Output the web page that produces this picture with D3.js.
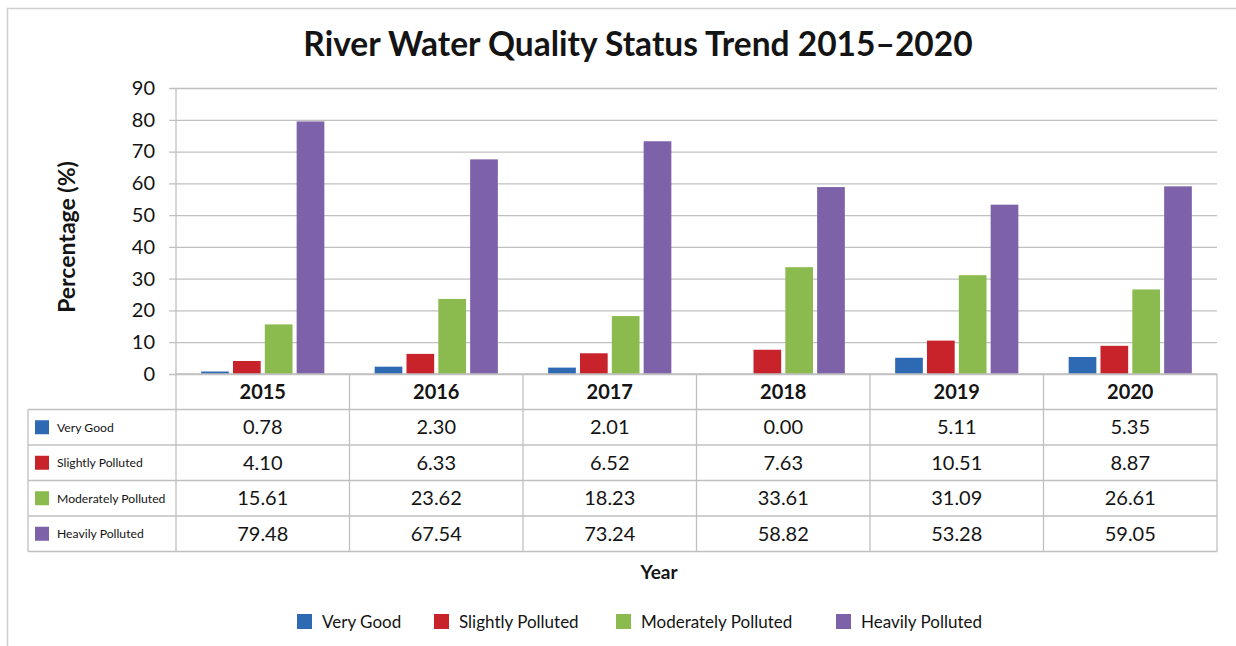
<!DOCTYPE html>
<html>
<head>
<meta charset="utf-8">
<script src="https://cdn.jsdelivr.net/npm/d3@7"></script>
<style>
  html, body { margin: 0; padding: 0; background: #fff; }
  svg { display: block; font-family: Lato, "Open Sans", sans-serif; }
</style>
</head>
<body>
<svg id="chart" width="1236" height="646"></svg>
<script>
const years = ["2015", "2016", "2017", "2018", "2019", "2020"];
const categories = ["Very Good", "Slightly Polluted", "Moderately Polluted", "Heavily Polluted"];
const veryGood = [0.78, 2.30, 2.01, 0.00, 5.11, 5.35];
const slightlyPolluted = [4.10, 6.33, 6.52, 7.63, 10.51, 8.87];
const moderatelyPolluted = [15.61, 23.62, 18.23, 33.61, 31.09, 26.61];
const heavilyPolluted = [79.48, 67.54, 73.24, 58.82, 53.28, 59.05];
const yTicks = [0, 10, 20, 30, 40, 50, 60, 70, 80, 90];
const colors = ["#2E6AB3", "#C8232B", "#8BBB4E", "#7E62A9"];

const seriesValues = [veryGood, slightlyPolluted, moderatelyPolluted, heavilyPolluted];

const svg = d3.select("#chart");
const W = 1236, H = 646;
const pLeft = 176, pRight = 1217, pTop = 88, pBottom = 374;
const tableLeft = 28, rowH = 35.5, headerH = 35.5;
const gridColor = "#C0C0C0";
const textColor = "#141414";

// outer frame
svg.append("rect").attr("x", 7.5).attr("y", 8.5).attr("width", W + 10).attr("height", H + 10)
  .attr("fill", "#fff").attr("stroke", "#D0D0D0").attr("stroke-width", 1.5);

const x = d3.scaleBand().domain(years).range([pLeft, pRight]).padding(0);
const bw = x.bandwidth();
const x1 = d3.scaleBand().domain(categories).range([bw * 0.145, bw * 0.855]).paddingInner(0.13).paddingOuter(0);
const y = d3.scaleLinear().domain([0, 90]).range([pBottom, pTop]);

// title
svg.append("text").attr("x", 638).attr("y", 56).attr("text-anchor", "middle")
  .attr("font-size", 33.5).attr("font-weight", 700).attr("fill", textColor)
  .text("River Water Quality Status Trend 2015–2020");

// gridlines + y axis
const yAxis = d3.axisLeft(y).tickValues(yTicks).tickSize(-(pRight - pLeft)).tickPadding(14).tickFormat(d3.format("d"));
const gy = svg.append("g").attr("transform", `translate(${pLeft},0)`).call(yAxis);
gy.select(".domain").remove();
gy.selectAll(".tick line").attr("stroke", gridColor).attr("stroke-width", 1.3).attr("x1", -7);
gy.selectAll(".tick text").attr("font-size", 20).attr("fill", textColor).attr("font-family", "Lato, sans-serif").attr("x", -21);

// y axis line
svg.append("line").attr("x1", pLeft).attr("x2", pLeft).attr("y1", pTop).attr("y2", pBottom)
  .attr("stroke", gridColor).attr("stroke-width", 1.3);

// y-axis title
svg.append("text").attr("transform", `translate(75,${(pTop + pBottom) / 2 + 6}) rotate(-90)`)
  .attr("text-anchor", "middle").attr("font-size", 23).attr("font-weight", 700).attr("fill", textColor)
  .text("Percentage (%)");

// bars
const groups = svg.append("g").selectAll("g").data(years).join("g")
  .attr("transform", d => `translate(${x(d)},0)`);
groups.selectAll("rect").data((d, i) => categories.map((c, k) => ({ c, k, v: seriesValues[k][i] })))
  .join("rect")
  .attr("x", d => x1(d.c)).attr("width", x1.bandwidth())
  .attr("y", d => y(d.v)).attr("height", d => y(0) - y(d.v))
  .attr("fill", d => colors[d.k]);

// table
const tbl = svg.append("g");
const nRows = categories.length;
const tableBottom = pBottom + headerH + nRows * rowH;
tbl.append("line").attr("x1", pLeft).attr("x2", pRight).attr("y1", pBottom).attr("y2", pBottom)
  .attr("stroke", gridColor).attr("stroke-width", 1.3);
for (let r = 0; r <= nRows; r++) {
  const yy = pBottom + headerH + r * rowH;
  tbl.append("line").attr("x1", tableLeft).attr("x2", pRight).attr("y1", yy).attr("y2", yy)
    .attr("stroke", gridColor).attr("stroke-width", 1.3);
}
years.forEach(yr => {
  tbl.append("line").attr("x1", x(yr)).attr("x2", x(yr)).attr("y1", pBottom).attr("y2", tableBottom)
    .attr("stroke", gridColor).attr("stroke-width", 1.3);
});
tbl.append("line").attr("x1", pRight).attr("x2", pRight).attr("y1", pBottom).attr("y2", tableBottom)
  .attr("stroke", gridColor).attr("stroke-width", 1.3);
tbl.append("line").attr("x1", tableLeft).attr("x2", tableLeft).attr("y1", pBottom + headerH).attr("y2", tableBottom)
  .attr("stroke", gridColor).attr("stroke-width", 1.3);

// header years
tbl.selectAll("text.year").data(years).join("text").attr("class", "year")
  .attr("x", d => x(d) + bw / 2).attr("y", pBottom + headerH / 2 + 7)
  .attr("text-anchor", "middle").attr("font-size", 20).attr("font-weight", 700).attr("fill", textColor)
  .text(d => d);

// row labels + values
const fmt = d3.format(".2f");
categories.forEach((c, k) => {
  const cy = pBottom + headerH + k * rowH + rowH / 2;
  tbl.append("rect").attr("x", 35).attr("y", cy - 7).attr("width", 14).attr("height", 14).attr("fill", colors[k]);
  tbl.append("text").attr("x", 57).attr("y", cy + 4.5).attr("font-size", 12.2).attr("fill", textColor)
    .text(c);
  years.forEach((yr, i) => {
    tbl.append("text").attr("x", x(yr) + bw / 2).attr("y", cy + 7)
      .attr("text-anchor", "middle").attr("font-size", 20).attr("fill", textColor)
      .text(fmt(seriesValues[k][i]));
  });
});

// x-axis title
svg.append("text").attr("x", 659).attr("y", 579).attr("text-anchor", "middle")
  .attr("font-size", 19).attr("font-weight", 700).attr("fill", textColor).text("Year");

// legend
const legendX = [297, 434, 616, 836];
const lg = svg.append("g");
categories.forEach((c, k) => {
  lg.append("rect").attr("x", legendX[k]).attr("y", 614).attr("width", 15).attr("height", 15).attr("fill", colors[k]);
  lg.append("text").attr("x", legendX[k] + 25).attr("y", 628).attr("font-size", 17).attr("fill", textColor).text(c);
});
</script>
</body>
</html>
